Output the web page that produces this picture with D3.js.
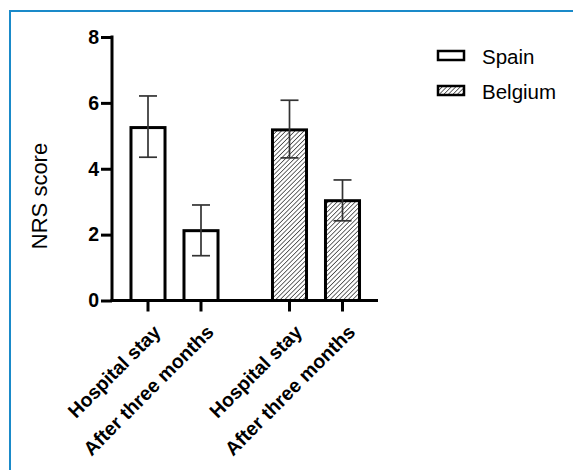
<!DOCTYPE html>
<html>
<head>
<meta charset="utf-8">
<script src="https://cdn.jsdelivr.net/npm/d3@7"></script>
<style>
  html, body { margin: 0; padding: 0; background: #fff; }
  svg { display: block; font-family: "Liberation Sans", Arial, sans-serif; }
</style>
</head>
<body>
<div id="chart"></div>
<script>
const countries = ['Spain', 'Belgium'];
const timepoints = ['Hospital stay', 'After three months'];
const means = {
  Spain: [5.25, 2.12],
  Belgium: [5.18, 3.03],
};
const errLow = {
  Spain: [4.35, 1.36],
  Belgium: [4.33, 2.42],
};
const errHigh = {
  Spain: [6.21, 2.9],
  Belgium: [6.08, 3.66],
};
const yTicks = [0, 2, 4, 6, 8];

const width = 573;
const height = 470;

const svg = d3.select('#chart')
  .append('svg')
  .attr('width', width)
  .attr('height', height);

// hatch pattern for Belgium
const defs = svg.append('defs');
defs.append('pattern')
  .attr('id', 'hatch')
  .attr('patternUnits', 'userSpaceOnUse')
  .attr('width', 3.2)
  .attr('height', 3.2)
  .attr('patternTransform', 'rotate(45)')
  .append('line')
  .attr('x1', 0).attr('y1', 0)
  .attr('x2', 0).attr('y2', 3.2)
  .attr('stroke', '#111')
  .attr('stroke-width', 1.25);

// blue frame
svg.append('path')
  .attr('d', 'M10,480 L10,11 L590,11')
  .attr('fill', 'none')
  .attr('stroke', '#1a8ac9')
  .attr('stroke-width', 2);

/* Scales
=========================================================================*/
const y = d3.scaleLinear().domain([0, 8]).range([300.5, 37]);
const xGroup = d3.scalePoint().domain(countries).range([174.5, 316]);
const xInner = d3.scaleBand().domain(timepoints).range([-53, 53]).paddingInner(0.358).paddingOuter(0.179);
const bw = xInner.bandwidth();

const rows = countries.flatMap((c) =>
  timepoints.map((t, i) => ({
    country: c,
    time: t,
    value: means[c][i],
    lo: errLow[c][i],
    hi: errHigh[c][i],
    cx: xGroup(c) + xInner(t) + bw / 2,
  }))
);

/* Axes
=========================================================================*/
const axisX0 = 112;
const axisX1 = 378;

const yAxis = svg.append('g')
  .attr('transform', `translate(${axisX0},0)`)
  .call(d3.axisLeft(y).tickValues(yTicks).tickSize(11).tickPadding(2).tickFormat(d3.format('d')));
yAxis.select('.domain').attr('stroke', '#000').attr('stroke-width', 3).attr('d', `M0,${y(8) - 1.5}V${y(0)}`);
yAxis.selectAll('.tick line').attr('stroke', '#000').attr('stroke-width', 3);
yAxis.selectAll('.tick text')
  .attr('fill', '#000')
  .style('font-size', '19.5px')
  .style('font-weight', 'bold')
  .style('font-family', '"Liberation Sans", Arial, sans-serif');

svg.append('text')
  .attr('transform', 'translate(47,196) rotate(-90)')
  .attr('text-anchor', 'middle')
  .style('font-size', '22px')
  .attr('fill', '#000')
  .text('NRS score');

/* Bars
=========================================================================*/
svg.append('g')
  .selectAll('rect')
  .data(rows)
  .join('rect')
  .attr('x', (d) => d.cx - bw / 2)
  .attr('y', (d) => y(d.value))
  .attr('width', bw)
  .attr('height', (d) => y(0) - y(d.value))
  .attr('fill', (d) => (d.country === 'Spain' ? '#fff' : 'url(#hatch)'))
  .attr('stroke', '#000')
  .attr('stroke-width', 3);

// error bars
const err = svg.append('g').attr('stroke', '#333').attr('stroke-width', 1.7);
err.selectAll('line.stem')
  .data(rows)
  .join('line')
  .attr('class', 'stem')
  .attr('x1', (d) => d.cx).attr('x2', (d) => d.cx)
  .attr('y1', (d) => y(d.lo)).attr('y2', (d) => y(d.hi));
err.selectAll('line.capHi')
  .data(rows)
  .join('line')
  .attr('class', 'capHi')
  .attr('x1', (d) => d.cx - 9).attr('x2', (d) => d.cx + 9)
  .attr('y1', (d) => y(d.hi)).attr('y2', (d) => y(d.hi));
err.selectAll('line.capLo')
  .data(rows)
  .join('line')
  .attr('class', 'capLo')
  .attr('x1', (d) => d.cx - 9).attr('x2', (d) => d.cx + 9)
  .attr('y1', (d) => y(d.lo)).attr('y2', (d) => y(d.lo));

// x axis baseline
svg.append('line')
  .attr('x1', axisX0 - 1.5).attr('x2', axisX1)
  .attr('y1', y(0)).attr('y2', y(0))
  .attr('stroke', '#000')
  .attr('stroke-width', 3);

// x ticks
svg.append('g')
  .selectAll('line')
  .data(rows)
  .join('line')
  .attr('x1', (d) => d.cx).attr('x2', (d) => d.cx)
  .attr('y1', y(0)).attr('y2', y(0) + 11)
  .attr('stroke', '#000')
  .attr('stroke-width', 3);

// x labels
svg.append('g')
  .selectAll('text')
  .data(rows)
  .join('text')
  .attr('transform', (d) => `translate(${d.cx + 9},${y(0) + 28}) rotate(-45)`)
  .attr('text-anchor', 'end')
  .attr('dy', '0.35em')
  .style('font-size', '19.5px')
  .style('font-weight', 'bold')
  .attr('fill', '#000')
  .text((d) => d.time);

/* Legend
=========================================================================*/
const legend = svg.append('g').attr('transform', 'translate(438,0)');
const legendY = d3.scalePoint().domain(countries).range([55.5, 90.5]);

legend.selectAll('rect')
  .data(countries)
  .join('rect')
  .attr('x', 0)
  .attr('y', (d) => legendY(d) - 4.5)
  .attr('width', 26)
  .attr('height', 9)
  .attr('fill', (d) => (d === 'Spain' ? '#fff' : 'url(#hatch)'))
  .attr('stroke', '#000')
  .attr('stroke-width', 2.5);

legend.selectAll('text')
  .data(countries)
  .join('text')
  .attr('x', 44)
  .attr('y', (d) => legendY(d) + 8)
  .style('font-size', '20.5px')
  .attr('fill', '#000')
  .text((d) => d);
</script>
</body>
</html>
